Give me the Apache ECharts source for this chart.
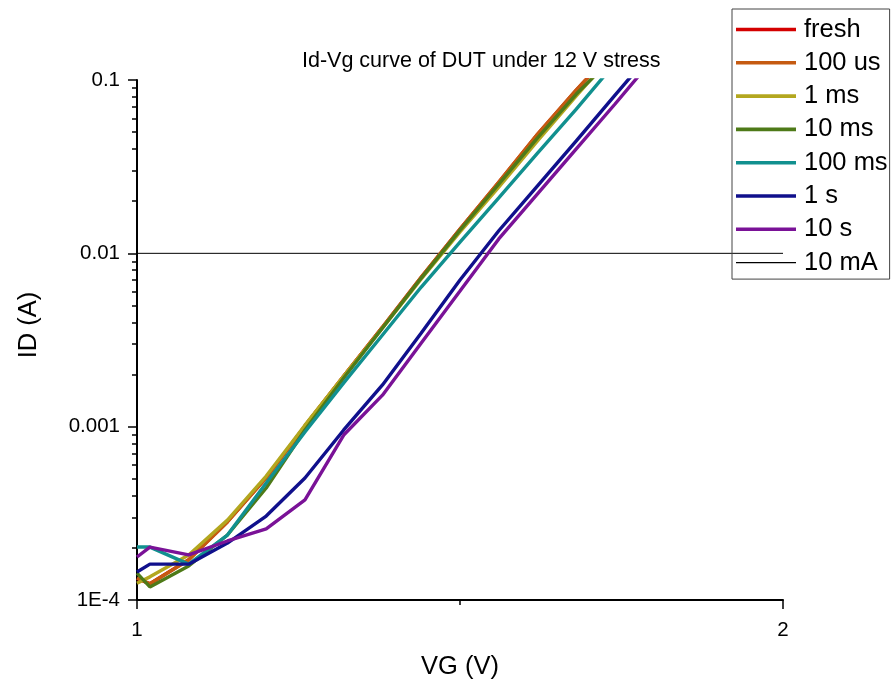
<!DOCTYPE html>
<html>
<head>
<meta charset="utf-8">
<script src="https://cdn.jsdelivr.net/npm/echarts@6/dist/echarts.min.js"></script>
<style>html,body{margin:0;padding:0;background:#fff}#c{width:895px;height:687px}</style>
</head>
<body>
<div id="c"></div>
<script>
// ---- data ----
var vg = [1.00, 1.02, 1.08, 1.14, 1.20, 1.26, 1.32, 1.38, 1.44, 1.50, 1.56, 1.62, 1.68, 1.74, 1.80];
var seriesNames = ['fresh', '100 us', '1 ms', '10 ms', '100 ms', '1 s', '10 s'];
var fresh   = [1.33e-4, 1.24e-4, 1.71e-4, 2.83e-4, 5.08e-4, 1.01e-3, 1.96e-3, 3.75e-3, 7.28e-3, 0.0138, 0.0257, 0.0486, 0.0873, 0.153];
var us100   = [1.34e-4, 1.24e-4, 1.70e-4, 2.82e-4, 5.06e-4, 1.01e-3, 1.96e-3, 3.76e-3, 7.30e-3, 0.0138, 0.0258, 0.0488, 0.0876, 0.153];
var ms1     = [1.25e-4, 1.36e-4, 1.82e-4, 2.89e-4, 5.19e-4, 1.02e-3, 1.96e-3, 3.71e-3, 7.11e-3, 0.0133, 0.0241, 0.0445, 0.0809, 0.145];
var ms10    = [1.43e-4, 1.19e-4, 1.57e-4, 2.37e-4, 4.43e-4, 9.57e-4, 1.91e-3, 3.71e-3, 7.20e-3, 0.0136, 0.0251, 0.0463, 0.0830, 0.138];
var ms100   = [2.02e-4, 2.02e-4, 1.61e-4, 2.37e-4, 4.73e-4, 9.32e-4, 1.79e-3, 3.38e-3, 6.39e-3, 0.0116, 0.0209, 0.0379, 0.0680, 0.125];
var s1      = [1.45e-4, 1.61e-4, 1.61e-4, 2.13e-4, 3.05e-4, 5.06e-4, 9.57e-4, 1.74e-3, 3.47e-3, 7.02e-3, 0.0135, 0.0245, 0.0445, 0.0819, 0.149];
var s10     = [1.77e-4, 2.02e-4, 1.82e-4, 2.19e-4, 2.57e-4, 3.78e-4, 8.95e-4, 1.52e-3, 3.04e-3, 6.06e-3, 0.0121, 0.0220, 0.0400, 0.0727, 0.134];
var refName = '10 mA';
var refX = [1, 2];
var refY = [0.01, 0.01];
var yTickValues = [1e-4, 1e-3, 1e-2, 1e-1];
var yTickLabels = ['1E-4', '0.001', '0.01', '0.1'];
var yMinorTicks = [2e-4,3e-4,4e-4,5e-4,6e-4,7e-4,8e-4,9e-4,2e-3,3e-3,4e-3,5e-3,6e-3,7e-3,8e-3,9e-3,2e-2,3e-2,4e-2,5e-2,6e-2,7e-2,8e-2,9e-2];
var xTickLabels = ['1', '2'];

var colors = ['#d40000', '#c55a11', '#b3a71f', '#4e7a18', '#11908f', '#10108c', '#7a1297'];
var allVals = [fresh, us100, ms1, ms10, ms100, s1, s10];

function zip(xs, ys) { var out = []; for (var i = 0; i < ys.length; i++) out.push([xs[i], ys[i]]); return out; }

var FONT = 'Liberation Sans, Arial, sans-serif';
var series = [{
  name: refName, type: 'line', symbol: 'none', data: zip(refX, refY),
  lineStyle: { color: '#000', width: 1 }, itemStyle: { color: '#000' }, z: 1, animation: false
}];
seriesNames.forEach(function (n, i) {
  series.push({
    name: n, type: 'line', symbol: 'none', data: zip(vg, allVals[i]),
    lineStyle: { color: colors[i], width: 3.4 }, itemStyle: { color: colors[i] }, z: 2 + i, animation: false
  });
});

var legendData = seriesNames.map(function (n) { return { name: n, icon: 'path://M0,0H60V3.6H0Z' }; });
legendData.push({ name: refName, icon: 'path://M0,0H60V1.2H0Z' });

var chart = echarts.init(document.getElementById('c'), null, { renderer: 'canvas' });
chart.setOption({
  animation: false,
  backgroundColor: '#fff',
  title: {
    text: 'Id-Vg curve of DUT under 12 V stress',
    left: 297, top: 45,
    textStyle: { fontFamily: FONT, fontSize: 21.5, fontWeight: 'normal', color: '#000' }
  },
  legend: {
    data: legendData,
    orient: 'vertical', left: 732, top: 9,
    padding: [7.5, 2, 3.5, 4],
    itemWidth: 60, itemHeight: 14, itemGap: 7.3,
    borderColor: '#444', borderWidth: 1,
    textStyle: { fontFamily: FONT, fontSize: 25.5, color: '#000', padding: [0, 0, 0, 3] }
  },
  grid: { left: 137, right: 112, top: 80, bottom: 87, containLabel: false },
  xAxis: {
    type: 'value', min: 1, max: 2, interval: 1,
    name: 'VG (V)', nameLocation: 'middle', nameGap: 54,
    nameTextStyle: { fontFamily: FONT, fontSize: 25.5, color: '#000' },
    axisLine: { lineStyle: { color: '#000', width: 2 } },
    axisTick: { length: 9, lineStyle: { color: '#000', width: 1.5 } },
    minorTick: { show: true, splitNumber: 2, length: 5, lineStyle: { color: '#000', width: 1.5 } },
    axisLabel: { fontFamily: FONT, fontSize: 20.5, color: '#000', margin: 20,
      formatter: function (v) { return xTickLabels[Math.round(v) - 1]; } },
    splitLine: { show: false }
  },
  yAxis: [{
    type: 'log', logBase: 10, min: 1e-4, max: 0.1,
    name: 'ID (A)', nameLocation: 'middle', nameGap: 95,
    nameTextStyle: { fontFamily: FONT, fontSize: 25.5, color: '#000', padding: [0, 0, 0, 30] },
    axisLine: { show: true, lineStyle: { color: '#000', width: 2 } },
    axisTick: { show: true, length: 9, lineStyle: { color: '#000', width: 1.5 } },
    axisLabel: { fontFamily: FONT, fontSize: 20.5, color: '#000', margin: 17,
      formatter: function (v) {
        var e = Math.round(Math.log10(v));
        for (var i = 0; i < yTickValues.length; i++) if (Math.round(Math.log10(yTickValues[i])) === e) return yTickLabels[i];
        return '';
      } },
    splitLine: { show: false }
  }, {
    type: 'log', logBase: 10, min: 1e-4, max: 0.1, position: 'left',
    axisLine: { show: false },
    axisTick: { show: true, length: 5, customValues: yMinorTicks, lineStyle: { color: '#000', width: 1.5 } },
    axisLabel: { show: false },
    splitLine: { show: false }
  }],
  series: series
});
</script>
</body>
</html>
